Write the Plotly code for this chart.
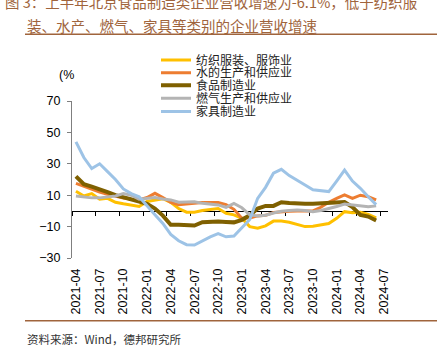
import plotly.graph_objects as go

months = [f"{y}-{m:02d}" for y in range(2021, 2025) for m in range(1, 13)]
months = months[months.index("2021-04"):months.index("2024-07") + 1]
data_months = months[:-1]  # 2021-04 .. 2024-06

textile = [12.5, 9.5, 11, 7.5, 8, 5.5, 4.5, 3.8, 2.8, 6, 7, 7.8, 5.5, 1.5, -0.8, -0.8,
           0.2, 1, 1.5, -1.5, -2.5, -4.7, -10, -11, -9.5, -6.5, -6.5, -7.2, -8.5, -10,
           -9.8, -9, -8, -4.7, -0.5, -1.2, -0.8, -2.2, -4.5]
water = [17.5, 15.5, 13.5, 12, 10.5, 9.2, 8.2, 7.5, 7, 8.5, 11.2, 8.5, 5.5, 4, 4.5, 5.3,
         5.4, 5.4, 5.3, 4, 1, -4.7, -4.5, -3.2, -2.8, -1, -0.5, -0.3, 0, -0.2,
         0, 2.3, 5.5, 8, 10.2, 8, 10, 9, 7]
food = [22, 17, 15.5, 14, 12, 10, 8.8, 7.2, 6, 4.5, 1.5, -3, -8.8, -8.9, -9.2, -9.3,
        -7.2, -6.8, -6.8, -7, -7.3, -5.7, -2.8, 1.5, 3.2, 3.2, 5.5, 5, 4.6, 4.5,
        4.5, 4.7, 5, 5.3, 5.6, 2.5, -2.5, -3.6, -6.1]
gas = [9.5, 9, 8.3, 8.3, 8.8, 9.5, 11, 10, 7.5, 7.8, 8.5, 7.6, 7, 5.5, 5.8, 5.8,
       4.8, 4.2, 3.8, 2.2, 4.7, 2, -2.5, -3.2, -2.8, -1.3, -0.2, 0.2, 0.5, 0.2,
       -0.6, 0.3, 1.4, 2.8, 4.4, 3.8, 3.2, 2.6, 3.2]
furniture = [44, 34, 27, 30, 25, 20, 14, 11, 9, 3, -2.5, -8, -15, -19, -21.5, -21.7,
             -19, -16.5, -14.5, -16.5, -16, -11, -5.5, 8, 15, 24, 26.5, 22.5, 19.7, 16.5,
             13.5, 12.8, 12.3, 19, 26, 19, 14.4, 9, 4]

series = [
    ("纺织服装、服饰业", textile, "#FFC000", 3),
    ("水的生产和供应业", water, "#ED7D31", 3),
    ("食品制造业", food, "#7F6000", 4),
    ("燃气生产和供应业", gas, "#B4B4B4", 3),
    ("家具制造业", furniture, "#9DC3E6", 3),
]

y_range = [-30, 70]
y_ticks = [-30, -10, 10, 30, 50, 70]
label_months = months[::3]

# plot area in pixels (for placing decorations)
W, H = 437, 355
L, R, T, B = 72, 49, 101, 97
pw, ph = W - L - R, H - T - B


def px(xp):
    return (xp - L) / pw


def py(yp):
    return (H - B - yp) / ph


fig = go.Figure()
legend_rows = [60, 72.7, 85.2, 98.3, 111.5]
for k, (name, vals, color, width) in enumerate(series):
    lg = "legend" if k == 0 else f"legend{k + 1}"
    fig.add_trace(go.Scatter(
        x=data_months, y=vals, name=name, mode="lines",
        line=dict(color=color, width=width),
        legend=lg, hoverinfo="skip",
    ))

# dummy trace for the bottom label axis
fig.add_trace(go.Scatter(x=months, y=[None] * len(months), xaxis="x2",
                         showlegend=False, hoverinfo="skip", mode="lines"))

zero_pos = (0 - y_range[0]) / (y_range[1] - y_range[0])

layout = dict(
    width=W, height=H,
    margin=dict(l=L, r=R, t=T, b=B, autoexpand=False),
    paper_bgcolor="white", plot_bgcolor="white",
    font=dict(family="Arial, Liberation Sans, sans-serif", size=12.5, color="#000000"),
    xaxis=dict(
        type="category", categoryorder="array", categoryarray=months,
        range=[-0.5, len(months) - 0.5],
        anchor="free", position=zero_pos,
        showline=True, linecolor="#000000", linewidth=1,
        ticks="outside", ticklen=4, tickcolor="#000000", tickwidth=1,
        tickson="boundaries", tickmode="linear", tick0=0, dtick=3,
        showticklabels=False, showgrid=False, zeroline=False,
        layer="below traces",
    ),
    xaxis2=dict(
        type="category", categoryorder="array", categoryarray=months,
        range=[-0.5, len(months) - 0.5],
        overlaying="x", anchor="y", side="bottom",
        showline=False, ticks="", showgrid=False, zeroline=False,
        tickmode="array", tickvals=label_months, ticktext=label_months,
        tickangle=-90, tickfont=dict(size=12.5, color="#000000"),
        ticklabelstandoff=7,
    ),
    yaxis=dict(
        range=y_range, tickmode="array", tickvals=y_ticks,
        showline=True, linecolor="#7F7F7F", linewidth=1,
        ticks="outside", ticklen=4, tickcolor="#7F7F7F",
        showgrid=False, zeroline=False, ticklabelstandoff=4,
        tickfont=dict(size=12.5, color="#000000"),
    ),
    showlegend=True,
)

for k, row in enumerate(legend_rows):
    key = "legend" if k == 0 else f"legend{k + 1}"
    layout[key] = dict(
        x=px(156), xanchor="left", y=py(row), yanchor="middle",
        bgcolor="rgba(0,0,0,0)", borderwidth=0,
        font=dict(family="Noto Sans CJK SC", size=12, color="#222222"),
        itemwidth=30, tracegroupgap=0,
    )

fig.update_layout(**layout)

brown = "#A0643C"
fig.add_annotation(text="图 3：上半年北京食品制造类企业营收增速为-6.1%，低于纺织服",
                   xref="paper", yref="paper", x=px(3), y=py(2), xanchor="left", yanchor="middle",
                   showarrow=False, font=dict(family="Noto Sans CJK SC", size=14.5, color=brown))
fig.add_annotation(text="装、水产、燃气、家具等类别的企业营收增速",
                   xref="paper", yref="paper", x=px(25), y=py(25), xanchor="left", yanchor="middle",
                   showarrow=False, font=dict(family="Noto Sans CJK SC", size=14.5, color=brown))
fig.add_annotation(text="(%", xref="paper", yref="paper", x=px(66), y=py(75),
                   xanchor="center", yanchor="middle", showarrow=False,
                   font=dict(size=12.5, color="#000000"))
fig.add_annotation(text="资料来源：Wind，德邦研究所", xref="paper", yref="paper",
                   x=px(25), y=py(339), xanchor="left", yanchor="middle", showarrow=False,
                   font=dict(family="Noto Sans CJK SC", size=11.5, color="#333333"))

fig.add_shape(type="line", xref="paper", yref="paper", x0=px(25), x1=px(437),
              y0=py(34.3), y1=py(34.3), line=dict(color=brown, width=1.5))
fig.add_shape(type="line", xref="paper", yref="paper", x0=px(25), x1=px(437),
              y0=py(320.7), y1=py(320.7), line=dict(color=brown, width=1.5))

fig.write_html("out.html", config={"displayModeBar": False},
               post_script="document.body.style.margin='0';document.body.style.overflow='hidden';")
